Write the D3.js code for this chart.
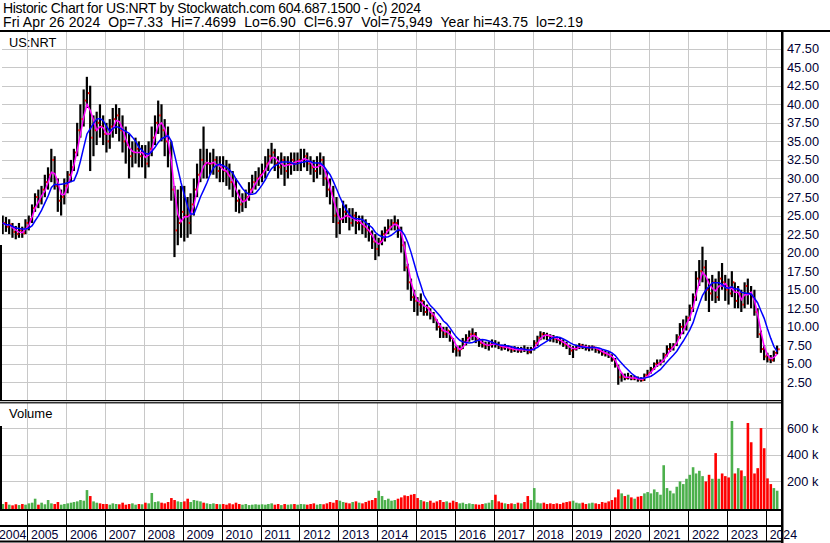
<!DOCTYPE html>
<html>
<head>
<meta charset="utf-8">
<title>US:NRT historic chart</title>
<script src="https://cdn.jsdelivr.net/npm/d3@7"></script>
<style>
  body { margin: 0; background: #fff; }
  svg { display: block; }
  text { font-family: "Liberation Sans", Arial, sans-serif; white-space: pre; }
</style>
</head>
<body>
<div id="chart"></div>
<script>
// ---- data (monthly, May 2004 .. Apr 2024) ----
const firstYear = 2004, firstMonth = 4; // May 2004

const highs = [
  25, 24.8, 24.5, 24, 23.6, 24, 23.5, 24.5,                 // 2004
  25, 26.5, 28, 28.5, 29, 30.5, 31.5, 34, 33, 30, 28.5, 30, // 2005
  31, 32.5, 34, 37.5, 40, 42, 43.7, 42.5, 38.5, 39, 40, 38.5,
  37.5, 38, 39.5, 40, 39.5, 38.5, 37, 36, 35, 35.5, 35, 34.5,
  34.5, 35, 37, 38.5, 40.5, 40, 38, 37, 35, 29, 28.5, 29,
  29, 27.5, 28, 30, 32, 34, 37, 34, 33.5, 34, 33, 33,
  33, 32.5, 32, 31, 30, 28.5, 28, 28.5, 29.5, 30.5, 31, 31.5,
  32, 33, 34, 34.8, 34, 33, 33.5, 33, 33, 33.5, 33.5, 33.5,
  34, 34, 33.5, 33, 32.5, 33, 33.5, 33, 31, 30, 29, 27.5,
  26, 27, 26.5, 26, 26, 25.5, 25, 25, 24.5, 24, 23, 22.5,
  22, 23, 23.5, 24.5, 24.5, 25, 24.5, 23.5, 21.5, 18.5, 16.5, 15,
  14, 14.5, 13.5, 13, 12.5, 12, 11, 10.5, 10, 10, 9.5, 8.5,
  7.5, 7.5, 8.5, 9, 9.5, 9.8, 9.3, 8.5, 8.2, 8, 8, 8.3,
  8.2, 8, 7.6, 7.7, 7.5, 7.3, 7.4, 7.3, 7.3, 7.5, 7.3, 7.3,
  8.2, 8.8, 9.4, 9.3, 9.2, 9, 8.9, 8.7, 8.5, 8.3, 8, 7.6,
  7.4, 7.6, 7.8, 7.7, 7.6, 7.5, 7.5, 7.3, 7.1, 6.9, 6.8, 6.6,
  6.3, 5.8, 4.9, 3.8, 3.7, 3.8, 3.5, 3.4, 3.3, 3.2, 3.7, 4.2,
  4.6, 5.2, 5.6, 5.6, 6.5, 7.5, 7.8, 7.8, 9, 10.5, 11, 11.5,
  13, 14.5, 17.5, 19, 20.8, 19, 16.5, 17, 16.5, 17.5, 18.6, 17,
  16.5, 17.5, 16, 15.5, 15, 16, 16.5, 15.5, 15, 12.5, 9.5, 7.5,
  6.5, 6.2, 6.8, 7.47                                        // 2024
];

const lows = [
  22.5, 22.8, 22.5, 22, 21.8, 22, 22, 22.5,
  23, 24, 25.5, 26, 26.5, 27.5, 28.5, 29.5, 28.5, 25.5, 25, 26.5,
  28, 29.5, 31, 33, 35.5, 37, 39.5, 31, 33, 34.5, 35.5, 34.5,
  33.5, 34, 35.5, 36, 35, 33.5, 32, 30, 31.5, 32, 31.5, 31.5,
  30, 31.5, 33, 34.5, 36, 35, 33, 31.5, 27, 19.4, 21, 22,
  21.5, 22, 22.5, 25, 27.5, 29.5, 30, 30, 30.5, 30.5, 30, 29.5,
  29.5, 29, 28.5, 27.5, 25.5, 25.3, 25.5, 26, 27, 28, 28.5, 29,
  29.5, 30, 31, 32, 31, 30, 30.5, 29, 30, 30.5, 31, 31,
  31, 31.5, 31, 30.5, 29.5, 30, 30.5, 29, 27.5, 26.5, 24, 22,
  22.5, 24, 24, 23, 23.5, 22.5, 23, 22.5, 22, 21.5, 20.5, 19,
  19.5, 21, 21.5, 22.5, 23, 23, 22, 20, 17.5, 15, 13.5, 12,
  11.5, 12, 11.5, 11.5, 11, 10.5, 9.5, 8.5, 8.5, 8.5, 8, 6.5,
  6, 6, 7, 7.5, 8, 8.2, 7.8, 7.3, 7.2, 7, 6.8, 7.2,
  7.2, 7, 6.8, 6.9, 6.7, 6.5, 6.6, 6.5, 6.5, 6.6, 6.3, 6.4,
  6.8, 7.4, 8.2, 8.3, 8.2, 8, 7.9, 7.8, 7.6, 7.3, 7, 6.2,
  5.8, 6.8, 7, 7, 6.8, 6.7, 6.8, 6.5, 6.4, 6.1, 6, 5.8,
  5.3, 4.5, 2.19, 2.6, 2.8, 2.9, 2.8, 2.8, 2.6, 2.6, 2.7, 3.3,
  3.7, 4.2, 4.6, 4.8, 5.2, 6, 6.6, 6.8, 7.4, 8.4, 9, 9.5,
  10.8, 12, 13.5, 15.5, 16, 13.5, 12, 13.5, 13.2, 13.5, 15, 13.5,
  13, 14, 12.5, 12.5, 12, 12.5, 13, 12.5, 11.5, 8.5, 6.5, 5.5,
  5.2, 5.1, 5.3, 6.3
];

const closes = [
  24, 23.5, 23.8, 22.8, 22.5, 23, 22.6, 24,
  24.5, 26, 27.5, 27, 28.5, 29.5, 30.5, 32.5, 29, 27, 27.5, 29,
  30.5, 31.5, 33.5, 36.5, 38, 40.5, 41.5, 35.5, 36.5, 37.5, 37, 36,
  35, 37, 38, 38.5, 36.5, 35, 34.5, 33, 33.5, 34, 33, 33.5,
  32, 34, 35.5, 37.5, 38.5, 36.5, 35, 33.5, 28.5, 23, 24, 25.5,
  25, 24, 26.5, 28.5, 30.5, 32.5, 32, 32, 32, 32.5, 31, 31.5,
  31, 30.5, 29.5, 29, 27, 26.5, 27, 27.5, 28.5, 29.5, 30, 30.5,
  31, 32, 33, 33.5, 32, 31.5, 32.5, 31, 32, 32.5, 32, 32.5,
  32.5, 33, 32, 31.5, 31, 32, 32.5, 30, 28.5, 28, 25, 24,
  24.5, 25.5, 25, 24, 25, 24, 24, 23.5, 23, 22.5, 21.5, 20.5,
  21.5, 22.5, 23, 23.5, 24, 24, 23, 21, 18, 16, 14, 13.5,
  13, 13.5, 12, 12.5, 11.5, 11, 10, 9.5, 9, 9.5, 8.5, 7,
  6.8, 7, 8, 8.5, 9, 9, 8.2, 7.8, 7.5, 7.5, 7.6, 7.8,
  7.6, 7.3, 7.2, 7.3, 7, 6.9, 7, 6.8, 7, 6.9, 6.6, 7,
  7.8, 8.5, 9, 8.9, 8.8, 8.6, 8.4, 8.2, 8, 7.6, 7.4, 6.8,
  7, 7.3, 7.5, 7.3, 7.1, 7.2, 7.3, 6.9, 6.7, 6.4, 6.3, 6.1,
  5.6, 4.8, 3.2, 3.3, 3.1, 3.2, 3, 3.1, 2.9, 2.8, 3.5, 3.8,
  4.3, 5, 5.1, 5.3, 6.2, 7, 7.2, 7.6, 8.6, 10, 10, 11.2,
  12.5, 14, 16.5, 17.5, 18, 15, 14.5, 16, 14, 16.5, 16, 15,
  14.5, 16, 13.5, 14.5, 13, 15.5, 14.5, 14, 12, 9, 7, 6,
  5.6, 5.5, 6.5, 6.97
];

// volume in thousands of shares
const volumes = [
  30, 45, 25, 20, 28, 22, 30, 25,
  35, 40, 70, 25, 40, 28, 60, 35, 30, 45, 25, 30,
  35, 40, 45, 50, 60, 55, 135, 90, 50, 40, 35, 30,
  30, 25, 35, 30, 28, 40, 25, 30, 35, 25, 30, 28,
  40, 35, 113, 45, 50, 40, 35, 45, 75, 60, 50, 45,
  50, 70, 45, 60, 55, 50, 40, 35, 30, 35, 30, 28,
  30, 25, 35, 28, 40, 30, 25, 30, 22, 25, 28, 25,
  28, 25, 30, 35, 25, 30, 22, 30, 25, 28, 30, 25,
  30, 28, 25, 30, 35, 25, 30, 28, 35, 45, 40, 60,
  55, 45, 40, 35, 45, 50, 40, 35, 45, 55, 60, 75,
  130, 90, 60, 70, 55, 60, 70, 80, 95, 90, 100, 105,
  75, 60, 50, 45, 55, 40, 50, 60, 45, 50, 40, 55,
  45, 35, 40, 30, 35, 30, 28, 25, 30, 35, 40, 60,
  100, 50, 40, 35, 30, 35, 30, 40, 35, 45, 90, 60,
  150, 40, 35, 40, 30, 35, 30, 35, 30, 40, 45, 50,
  55, 40, 35, 40, 30, 35, 40, 35, 30, 45, 40, 50,
  60, 80, 140, 110, 90, 100, 80, 70, 85, 90, 110, 120,
  110, 140, 120, 100, 322, 150, 130, 110, 160, 200, 180, 220,
  250, 307, 260, 280, 240, 200, 250, 220, 413, 220, 260, 240,
  230, 655, 260, 300, 283, 240, 640, 495, 260, 300, 602, 450,
  223, 180, 150, 130
];

const priceTicks = [2.5, 5, 7.5, 10, 12.5, 15, 17.5, 20, 22.5, 25, 27.5, 30,
                    32.5, 35, 37.5, 40, 42.5, 45, 47.5];
const volumeTicks = [200, 400, 600];
const volumeTickLabels = ["200 k", "400 k", "600 k"];
const yearLabels = ["2004", "2005", "2006", "2007", "2008", "2009", "2010", "2011",
                    "2012", "2013", "2014", "2015", "2016", "2017", "2018", "2019",
                    "2020", "2021", "2022", "2023", "2024"];

const titleLine1 = "Historic Chart for US:NRT by Stockwatch.com 604.687.1500 - (c) 2024";
const titleLine2 = "Fri Apr 26 2024  Op=7.33  Hi=7.4699  Lo=6.90  Cl=6.97  Vol=75,949  Year hi=43.75  lo=2.19";

// ---- layout ----
const width = 830, height = 543;
const plotL = 2, plotR = 781;
const priceTop = 32, priceBot = 400;
const volTop = 403, volBot = 509;
const gridColor = "#c8c8c8";
const axisText = "#000033";

const svg = d3.select("#chart").append("svg")
    .attr("width", width)
    .attr("height", height);

svg.append("rect").attr("width", width).attr("height", height).attr("fill", "#fff");

// scales
const x = d3.scaleTime()
    .domain([new Date(2004, 0, 1), new Date(2024, 0, 1)])
    .range([-11.6, 766]);
const y = d3.scaleLinear().domain([0, 50]).range([401, 30.1]);
const yVol = d3.scaleLinear().domain([0, 600]).range([508, 428.3]);

const data = closes.map((c, i) => ({
    date: new Date(firstYear, firstMonth + i, 15),
    high: highs[i],
    low: lows[i],
    close: c,
    vol: volumes[i],
    up: i === 0 || c >= closes[i - 1]
}));

// moving averages of the closes
function movingAvg(n) {
    return data.map((d, i) => ({
        date: d.date,
        value: d3.mean(closes.slice(Math.max(0, i - n + 1), i + 1))
    }));
}
const maShort = movingAvg(3);
const maLong = movingAvg(7);

const yearDates = yearLabels.map(s => new Date(+s, 0, 1));
const px = v => Math.round(v) + 0.5;

// clip paths
const defs = svg.append("defs");
defs.append("clipPath").attr("id", "clip-price").append("rect")
    .attr("x", plotL).attr("y", priceTop)
    .attr("width", plotR - plotL).attr("height", priceBot - priceTop);
defs.append("clipPath").attr("id", "clip-vol").append("rect")
    .attr("x", plotL).attr("y", volTop)
    .attr("width", plotR - plotL).attr("height", volBot - volTop);

// ---- gridlines ----
const grid = svg.append("g").attr("stroke", gridColor).attr("stroke-width", 1);

grid.selectAll(".hp").data(priceTicks).enter().append("line")
    .attr("x1", plotL).attr("x2", plotR)
    .attr("y1", d => px(y(d))).attr("y2", d => px(y(d)));

grid.selectAll(".hv").data(volumeTicks).enter().append("line")
    .attr("x1", plotL).attr("x2", plotR)
    .attr("y1", d => px(yVol(d))).attr("y2", d => px(yVol(d)));

const innerYears = yearDates.filter(d => x(d) > plotL && x(d) < plotR);

grid.selectAll(".vp").data(innerYears).enter().append("line")
    .attr("x1", d => px(x(d))).attr("x2", d => px(x(d)))
    .attr("y1", priceTop).attr("y2", priceBot);

grid.selectAll(".vv").data(innerYears).enter().append("line")
    .attr("x1", d => px(x(d))).attr("x2", d => px(x(d)))
    .attr("y1", volTop).attr("y2", volBot);

// ---- price bars ----
const price = svg.append("g").attr("clip-path", "url(#clip-price)");

price.selectAll(".bar").data(data).enter().append("rect")
    .attr("x", d => x(d.date) - 1.2)
    .attr("width", 2.2)
    .attr("y", d => y(d.high))
    .attr("height", d => y(d.low) - y(d.high))
    .attr("fill", "#000");

price.selectAll(".close").data(data).enter().append("rect")
    .attr("x", d => x(d.date) + 1)
    .attr("width", 1.5)
    .attr("y", d => y(d.close) - 1)
    .attr("height", 2)
    .attr("fill", "#ff0000");

const line = d3.line()
    .x(d => x(d.date))
    .y(d => y(d.value));

price.append("path").datum(maShort)
    .attr("d", line).attr("fill", "none")
    .attr("stroke", "#ff00ff").attr("stroke-width", 1.5);

price.append("path").datum(maLong)
    .attr("d", line).attr("fill", "none")
    .attr("stroke", "#0000ff").attr("stroke-width", 1.5);

// ---- volume bars ----
const vol = svg.append("g").attr("clip-path", "url(#clip-vol)");

vol.selectAll(".vbar").data(data).enter().append("rect")
    .attr("x", d => x(d.date) - 1.3)
    .attr("width", 2.6)
    .attr("y", d => yVol(d.vol))
    .attr("height", d => yVol(0) - yVol(d.vol) + 1)
    .attr("fill", d => d.up ? "#4cb04c" : "#ff0000");

// ---- frame ----
const frame = svg.append("g").attr("fill", "#000");
frame.append("rect").attr("x", 0).attr("y", 30).attr("width", width).attr("height", 2);
frame.append("rect").attr("x", 0).attr("y", 400).attr("width", plotR + 2).attr("height", 1.2);
frame.append("rect").attr("x", 0).attr("y", 402.2).attr("width", plotR + 2).attr("height", 1.2);
frame.append("rect").attr("x", 0).attr("y", 509).attr("width", plotR + 2).attr("height", 2);
frame.append("rect").attr("x", 0).attr("y", 525).attr("width", plotR + 2).attr("height", 2);
frame.append("rect").attr("x", 0).attr("y", 540.5).attr("width", plotR + 2).attr("height", 2);
frame.append("rect").attr("x", plotR).attr("y", 30).attr("width", 2.5).attr("height", height - 30);
frame.append("rect").attr("x", 0).attr("y", 245).attr("width", 2).attr("height", 155);
frame.append("rect").attr("x", 0).attr("y", 426).attr("width", 2).attr("height", 84);

svg.append("g").attr("stroke", "#000").attr("stroke-width", 1)
    .selectAll("line").data(innerYears).enter().append("line")
    .attr("x1", d => px(x(d))).attr("x2", d => px(x(d)))
    .attr("y1", 510).attr("y2", 541);

// ---- text ----
svg.append("text").attr("x", 3).attr("y", 12.5)
    .attr("font-size", "14px").attr("fill", "#000")
    .attr("textLength", 418).attr("lengthAdjust", "spacing")
    .text(titleLine1);
svg.append("text").attr("x", 3).attr("y", 27)
    .attr("font-size", "14px").attr("fill", "#000")
    .attr("textLength", 580).attr("lengthAdjust", "spacing")
    .text(titleLine2);

svg.append("text").attr("x", 9).attr("y", 47)
    .attr("font-size", "12.8px").attr("fill", "#000").text("US:NRT");
svg.append("text").attr("x", 9).attr("y", 418)
    .attr("font-size", "13px").attr("fill", "#000").text("Volume");

svg.append("g").selectAll("text").data(priceTicks).enter().append("text")
    .attr("x", 787)
    .attr("y", d => y(d) + 4.5)
    .attr("font-size", "12.8px")
    .attr("fill", axisText)
    .text(d => d.toFixed(2));

svg.append("g").selectAll("text").data(volumeTicks).enter().append("text")
    .attr("x", 787)
    .attr("y", d => yVol(d) + 4.5)
    .attr("font-size", "12.8px")
    .attr("fill", axisText)
    .text((d, i) => volumeTickLabels[i]);

svg.append("g").selectAll("text").data(yearDates).enter().append("text")
    .attr("x", d => Math.max(x(d) + 3.7, -1))
    .attr("y", 539)
    .attr("font-size", "12.3px")
    .attr("fill", axisText)
    .text((d, i) => yearLabels[i]);
</script>
</body>
</html>
